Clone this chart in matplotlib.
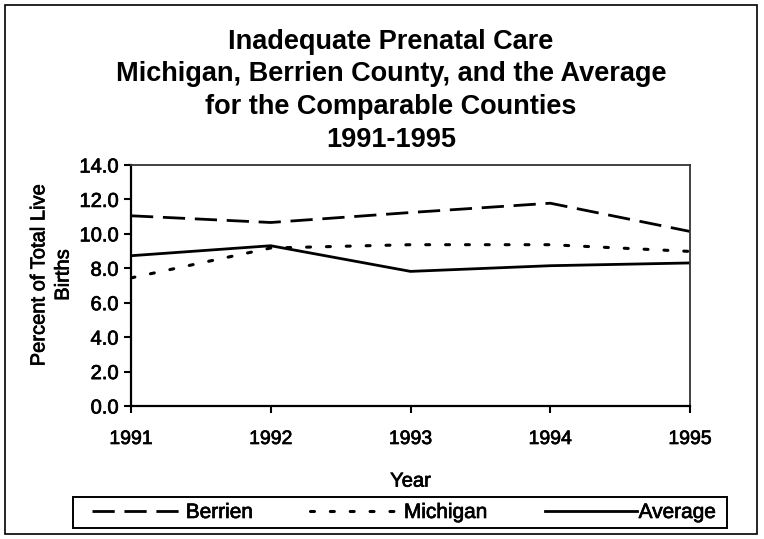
import matplotlib
matplotlib.use("Agg")
import matplotlib.pyplot as plt
from matplotlib.patches import Rectangle
import matplotlib.patheffects as pe

years = [1991, 1992, 1993, 1994, 1995]
berrien = [11.05, 10.66, 11.24, 11.78, 10.14]
michigan = [7.44, 9.18, 9.37, 9.37, 8.98]
average = [8.73, 9.31, 7.82, 8.15, 8.31]
yticks = [0, 2, 4, 6, 8, 10, 12, 14]

plt.rcParams['font.family'] = ['Liberation Sans', 'DejaVu Sans']
thick = [pe.withStroke(linewidth=0.5, foreground='black')]

W, H = 764, 539
fig = plt.figure(figsize=(W/100, H/100), dpi=100)
ax = fig.add_axes([131/W, 1-406/H, (690-131)/W, (406-165)/H])

ax.plot(years, berrien, color='black', lw=2, dashes=(8, 3.5), label='Berrien')
ax.plot(years, michigan, color='black', lw=2.2, dashes=(1.3, 5.2),
        dash_capstyle='round', label='Michigan')
ax.plot(years, average, color='black', lw=2, label='Average')

ax.set_xlim(1991, 1995)
ax.set_ylim(0, 14)
ax.set_xticks(years)
ax.set_xticklabels([str(y) for y in years], fontsize=14)
ax.set_yticks(yticks)
ax.set_yticklabels([f"{v:.1f}" for v in yticks], fontsize=14.5)
for t in ax.get_xticklabels() + ax.get_yticklabels():
    t.set_path_effects(thick)
ax.tick_params(axis='x', direction='out', length=5, width=1.5, pad=13)
ax.tick_params(axis='y', direction='out', length=5, width=1.5, pad=4)
for k, s in ax.spines.items():
    s.set_color('black' if k in ('left', 'bottom') else '#333333')
    s.set_linewidth(1.6 if k in ('left', 'bottom') else 1.3)

ax.set_xlabel('Year', fontsize=14.5, labelpad=17, path_effects=thick)
fig.text(51/W, 1-275/H, 'Percent of Total Live\nBirths', rotation=90,
         ha='center', va='center', multialignment='center', fontsize=14.5,
         linespacing=1.35, path_effects=thick)

title_lines = ['Inadequate Prenatal Care',
               'Michigan, Berrien County, and the Average',
               'for the Comparable Counties',
               '1991-1995']
for line, yy in zip(title_lines, [42, 74, 107, 140]):
    fig.text(391/W, 1-yy/H, line, ha='center', va='center',
             fontsize=19.5, fontweight='bold')

# legend box
fig.patches.append(Rectangle((73/W, 1-528/H), (727-73)/W, 31/H, transform=fig.transFigure,
                             fill=False, edgecolor='black', lw=1.4, zorder=5))
leg = fig.legend(loc='center', ncol=3, mode='expand',
                 bbox_to_anchor=(92/W, 1-528/H, (716-92)/W, 31/H),
                 fontsize=15, frameon=False, handlelength=4.4,
                 handletextpad=0.1, borderaxespad=0, borderpad=0)
for t in leg.get_texts():
    t.set_path_effects(thick)

fig.patches.append(Rectangle((5/W, 5/H), (757-5)/W, (534-5)/H, transform=fig.transFigure,
                             fill=False, edgecolor='black', lw=1.2))

fig.savefig('out.png', dpi=100)
